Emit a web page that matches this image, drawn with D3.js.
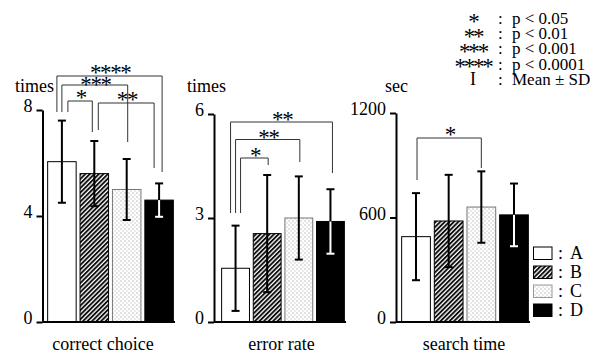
<!DOCTYPE html>
<html><head><meta charset="utf-8">
<script src="https://cdn.jsdelivr.net/npm/d3@7"></script>
<style>
html,body{margin:0;padding:0;background:#fff;}
svg{display:block;}
text{font-family:"Liberation Serif","Times New Roman",serif;fill:#000;}
</style></head>
<body>
<svg id="chart" width="609" height="356"></svg>
<script>
// ---------- DATA ----------
const categories = ["A", "B", "C", "D"];
const panelTitles = ["correct choice", "error rate", "search time"];
const panelUnits = ["times", "times", "sec"];
const correctMean = [6.05, 5.6, 5.0, 4.6];
const correctSD   = [1.55, 1.23, 1.15, 0.63];
const errorMean   = [1.55, 2.55, 3.0, 2.9];
const errorSD     = [1.23, 1.69, 1.2, 0.93];
const searchMean  = [490, 580, 660, 615];
const searchSD    = [250, 265, 205, 180];
const correctTicks = [0, 4, 8];
const errorTicks   = [0, 3, 6];
const searchTicks  = [0, 600, 1200];
const correctComparisons = [["A", "D", "****"], ["A", "C", "***"], ["A", "B", "*"], ["B", "D", "**"]];
const errorComparisons   = [["A", "D", "**"], ["A", "C", "**"], ["A", "B", "*"]];
const searchComparisons  = [["A", "C", "*"]];
const sigSymbols = ["*", "**", "***", "****", "I"];
const sigMeanings = ["p < 0.05", "p < 0.01", "p < 0.001", "p < 0.0001", "Mean \u00b1 SD"];

// ---------- LAYOUT / STYLE ----------
const baseY = 322;
const panels = [
  {mean: correctMean, sd: correctSD, ticks: correctTicks, comps: correctComparisons,
   axisX: 42.5, x0: 47, x1: 174, yTop: 110, titleX: 15, labelX: 103,
   brackets: [{y: 76, dl: -5, dr: 3, le: 112, re: 172, ly: 7},
              {y: 85, dl: 0, dr: 1, le: 112, re: 142, ly: 4},
              {y: 101, dl: 6, dr: -2, le: 112, re: 132, ly: 7},
              {y: 103, dl: 4, dr: -5, le: 130, re: 168, ly: 7}]},
  {mean: errorMean, sd: errorSD, ticks: errorTicks, comps: errorComparisons,
   axisX: 214, x0: 221, x1: 345, yTop: 114, titleX: 187, labelX: 281.5,
   brackets: [{y: 122, dl: -5, dr: 2, le: 213, re: 173, ly: 6},
              {y: 139.5, dl: 0, dr: 1, le: 213, re: 162, ly: 6},
              {y: 158, dl: 5, dr: 1, le: 213, re: 165, ly: 6}]},
  {mean: searchMean, sd: searchSD, ticks: searchTicks, comps: searchComparisons,
   axisX: 396, x0: 401, x1: 529, yTop: 113, titleX: 385, labelX: 464,
   brackets: [{y: 138, dl: 1, dr: 0, le: 180, re: 168, ly: 7}]}
];
const fills = {A: "#fff", B: "url(#hatch)", C: "url(#dots)", D: "#000"};
const strokes = {A: "#000", B: "#000", C: "#777", D: "#000"};
const lowerErr = {A: "#000", B: "#000", C: "#000", D: "#fff"};

const svg = d3.select("#chart");
const defs = svg.append("defs");
const hatch = defs.append("pattern").attr("id", "hatch").attr("patternUnits", "userSpaceOnUse")
  .attr("width", 3.2).attr("height", 3.2).attr("patternTransform", "rotate(45)");
hatch.append("rect").attr("width", 3.2).attr("height", 3.2).attr("fill", "#fff");
hatch.append("line").attr("x1", 1).attr("x2", 1).attr("y1", 0).attr("y2", 3.2)
  .attr("stroke", "#000").attr("stroke-width", 1.8);
const dots = defs.append("pattern").attr("id", "dots").attr("patternUnits", "userSpaceOnUse")
  .attr("width", 4).attr("height", 4);
dots.append("rect").attr("width", 4).attr("height", 4).attr("fill", "#fff");
dots.append("rect").attr("x", 0.5).attr("y", 0.5).attr("width", 1).attr("height", 1).attr("fill", "#888");
dots.append("rect").attr("x", 2.5).attr("y", 2.5).attr("width", 1).attr("height", 1).attr("fill", "#aaa");

panels.forEach((p, i) => {
  const g = svg.append("g");
  const x = d3.scaleBand().domain(categories).range([p.x0, p.x1]).paddingInner(0.12).paddingOuter(0.02);
  const y = d3.scaleLinear().domain([0, d3.max(p.ticks)]).range([baseY, p.yTop]);

  // axis
  const ax = g.append("g").attr("transform", `translate(${p.axisX},0)`)
    .call(d3.axisLeft(y).tickValues(p.ticks).tickFormat(d3.format("d"))
      .tickSize(6).tickPadding(4).tickSizeOuter(0));
  ax.attr("font-family", null).attr("font-size", null);
  ax.select(".domain").attr("stroke", "#000").attr("stroke-width", 2);
  ax.selectAll(".tick line").attr("stroke", "#000").attr("stroke-width", 2);
  ax.selectAll(".tick text").attr("font-size", 18).attr("dy", "0.1em").attr("fill", "#000");

  // bars
  categories.forEach((c, k) => {
    g.append("rect").attr("x", x(c)).attr("y", y(p.mean[k]))
      .attr("width", x.bandwidth()).attr("height", baseY - y(p.mean[k]))
      .attr("fill", fills[c]).attr("stroke", strokes[c]).attr("stroke-width", 1);
  });
  // baseline
  g.append("line").attr("x1", p.axisX).attr("x2", p.x1 + 1).attr("y1", baseY).attr("y2", baseY)
    .attr("stroke", "#000").attr("stroke-width", 2);

  // error bars
  categories.forEach((c, k) => {
    const cx = x(c) + x.bandwidth() / 2;
    const m = p.mean[k], s = p.sd[k];
    g.append("line").attr("x1", cx).attr("x2", cx).attr("y1", y(m)).attr("y2", y(m + s))
      .attr("stroke", "#000").attr("stroke-width", 2);
    g.append("line").attr("x1", cx - 4).attr("x2", cx + 4).attr("y1", y(m + s)).attr("y2", y(m + s))
      .attr("stroke", "#000").attr("stroke-width", 2);
    g.append("line").attr("x1", cx).attr("x2", cx).attr("y1", y(m)).attr("y2", y(m - s))
      .attr("stroke", lowerErr[c]).attr("stroke-width", 2);
    g.append("line").attr("x1", cx - 4).attr("x2", cx + 4).attr("y1", y(m - s)).attr("y2", y(m - s))
      .attr("stroke", lowerErr[c]).attr("stroke-width", 2);
  });

  // significance brackets
  p.comps.forEach((cmp, j) => {
    const b = p.brackets[j];
    const xl = x(cmp[0]) + x.bandwidth() / 2 + b.dl;
    const xr = x(cmp[1]) + x.bandwidth() / 2 + b.dr;
    g.append("path").attr("d", `M${xl},${b.le}V${b.y}H${xr}V${b.re}`)
      .attr("fill", "none").attr("stroke", "#333").attr("stroke-width", 1);
    g.append("text").attr("x", (xl + xr) / 2 + 0.7).attr("y", b.y - b.ly + 11)
      .attr("text-anchor", "middle").attr("font-size", 23).attr("letter-spacing", -1.4)
      .text(cmp[2]);
  });

  // unit & title
  g.append("text").attr("x", p.titleX).attr("y", 92).attr("font-size", 18).text(panelUnits[i]);
  g.append("text").attr("x", p.labelX).attr("y", 350).attr("text-anchor", "middle")
    .attr("font-size", 18).text(panelTitles[i]);
});

// category legend
const lg = svg.append("g");
categories.forEach((c, k) => {
  const yy = 247 + k * 19;
  lg.append("rect").attr("x", 533.5).attr("y", yy).attr("width", 18.5).attr("height", 12.5)
    .attr("fill", fills[c]).attr("stroke", strokes[c] === "#777" ? "#999" : "#000").attr("stroke-width", 1);
  lg.append("text").attr("x", 558).attr("y", yy + 12).attr("font-size", 18).text(":");
  lg.append("text").attr("x", 570).attr("y", yy + 12).attr("font-size", 18).text(c);
});

// significance legend
const sg = svg.append("g");
sigSymbols.forEach((s, k) => {
  const by = 24 + k * 15.2;
  if (s === "I") {
    sg.append("text").attr("x", 473).attr("y", by).attr("text-anchor", "middle")
      .attr("font-size", 18).text(s);
  } else {
    sg.append("text").attr("x", 473).attr("y", by + 4.5).attr("text-anchor", "middle")
      .attr("font-size", 23).attr("letter-spacing", -2.2).text(s);
  }
  sg.append("text").attr("x", 498).attr("y", by).attr("font-size", 17).text(":");
  sg.append("text").attr("x", 512).attr("y", by).attr("font-size", 17).text(sigMeanings[k]);
});
</script>
</body></html>
